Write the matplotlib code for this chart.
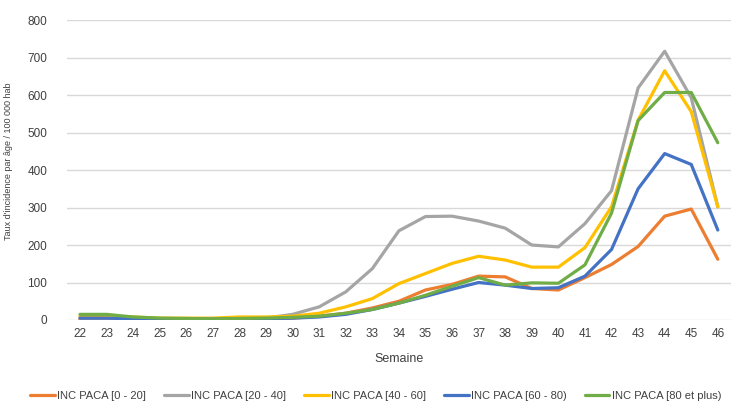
import matplotlib.pyplot as plt
import numpy as np

plt.rcParams['font.family'] = ['Liberation Sans', 'DejaVu Sans']

semaines = list(range(22, 47))
series_labels = ['INC PACA [0 - 20]', 'INC PACA [20 - 40]', 'INC PACA [40 - 60]',
                 'INC PACA [60 - 80)', 'INC PACA [80 et plus)']
inc_0_20 = [2, 2, 2, 2, 2, 2, 3, 3, 5, 10, 18, 32, 50, 80, 95, 117, 115, 84, 80, 113, 148, 196, 277, 296, 162]
inc_20_40 = [5, 5, 3, 2, 2, 2, 3, 5, 15, 35, 75, 137, 238, 276, 277, 264, 245, 200, 195, 257, 345, 619, 717, 593, 302]
inc_40_60 = [10, 10, 8, 5, 5, 5, 8, 8, 10, 18, 35, 57, 97, 124, 151, 170, 160, 141, 141, 193, 302, 533, 665, 556, 302]
inc_60_80 = [5, 5, 3, 2, 2, 2, 3, 3, 5, 8, 15, 28, 45, 63, 82, 100, 93, 84, 86, 117, 188, 350, 444, 415, 240]
inc_80_plus = [15, 15, 8, 5, 4, 3, 4, 5, 7, 10, 18, 28, 45, 66, 90, 113, 93, 99, 98, 147, 285, 532, 607, 607, 473]
colors = ['#ED7D31', '#A5A5A5', '#FFC000', '#4472C4', '#70AD47']

fig = plt.figure(figsize=(7.37, 4.03), dpi=100)
ax = fig.add_axes([0.0905, 0.206, 0.9015, 0.744])

for vals, lab, col in zip([inc_0_20, inc_20_40, inc_40_60, inc_60_80, inc_80_plus], series_labels, colors):
    ax.plot(semaines, vals, color=col, lw=2.3, label=lab, solid_capstyle='round')

ax.set_xlim(21.5, 46.5)
ax.set_ylim(0, 800)
ax.set_yticks(range(0, 801, 100))
ax.set_xticks(semaines)
ax.grid(axis='y', color='#d9d9d9', lw=1)
ax.set_axisbelow(True)
for s in ax.spines.values():
    s.set_visible(False)
ax.tick_params(length=0, labelsize=8.5, colors='#404040')
ax.tick_params(axis='y', pad=14)
ax.tick_params(axis='x', pad=6)
ax.set_xlabel('Semaine', fontsize=9, color='#404040', labelpad=9)
fig.text(0.011, 0.6, "Taux d'incidence par âge / 100 000 hab", rotation=90,
         fontsize=6.5, color='#404040', ha='center', va='center')

fig.legend(loc='lower center', bbox_to_anchor=(0.51, -0.02), ncol=5, frameon=False,
           fontsize=8, handlelength=2.2, handletextpad=0.25, columnspacing=1.6, labelcolor='#404040')

fig.savefig('out.png', dpi=100)
